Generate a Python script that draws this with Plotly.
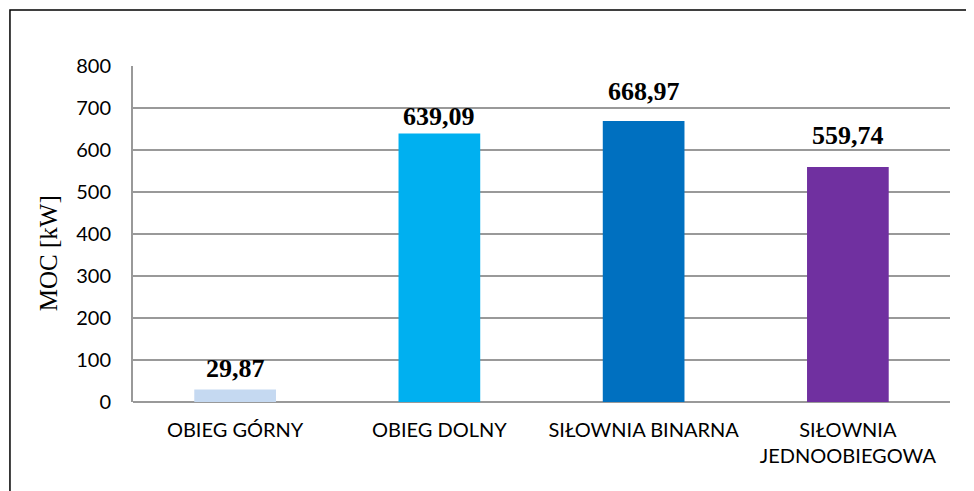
import plotly.graph_objects as go

categories = ["OBIEG GÓRNY", "OBIEG DOLNY", "SIŁOWNIA BINARNA", "SIŁOWNIA<br>JEDNOOBIEGOWA"]
values = [29.87, 639.09, 668.97, 559.74]
colors = ["#C5D9F1", "#00B0F0", "#0070C0", "#7030A0"]
y_ticks = [0, 100, 200, 300, 400, 500, 600, 700, 800]

# label lift above each bar (px), as placed in the original
label_lift = [4, 1, 13, 15]

fig = go.Figure(go.Bar(
    x=categories, y=values,
    marker=dict(color=colors, line=dict(width=0)),
))

for c, v, d in zip(categories, values, label_lift):
    fig.add_annotation(
        x=c, y=v, xref="x", yref="y", yanchor="bottom", yshift=d, showarrow=False,
        text="<b>" + f"{v:.2f}".replace(".", ",") + "</b>",
        font=dict(family="Liberation Serif", size=26, color="black"),
    )

fig.add_annotation(
    x=-0.104, y=0.443, xref="paper", yref="paper", showarrow=False, textangle=-90,
    xanchor="center", yanchor="middle",
    text="MOC [kW]", font=dict(family="Liberation Serif", size=25, color="black"),
)

fig.update_layout(
    width=966, height=483,
    margin=dict(l=125, r=24, t=58, b=89),
    paper_bgcolor="white", plot_bgcolor="white",
    bargap=0.6,
    showlegend=False,
    font=dict(family="Lato", size=20, color="black"),
    xaxis=dict(showgrid=False, showline=False, ticks="", automargin=False,
               tickfont=dict(family="Lato", size=20), ticklabelstandoff=14),
    yaxis=dict(range=[0, 800], tickvals=y_ticks, showgrid=True, gridcolor="#999999", gridwidth=2,
               zeroline=True, zerolinecolor="#999999", zerolinewidth=2, automargin=False,
               showline=True, linecolor="#999999", linewidth=2, ticks="", ticklabelstandoff=16,
               tickfont=dict(family="Lato", size=20)),
    shapes=[dict(type="rect", xref="paper", yref="paper", x0=-0.1506, x1=1.031, y0=-0.3, y1=1.1667,
                 line=dict(color="black", width=1.5), fillcolor="rgba(0,0,0,0)", layer="below")],
)

fig.write_html("out.html")
